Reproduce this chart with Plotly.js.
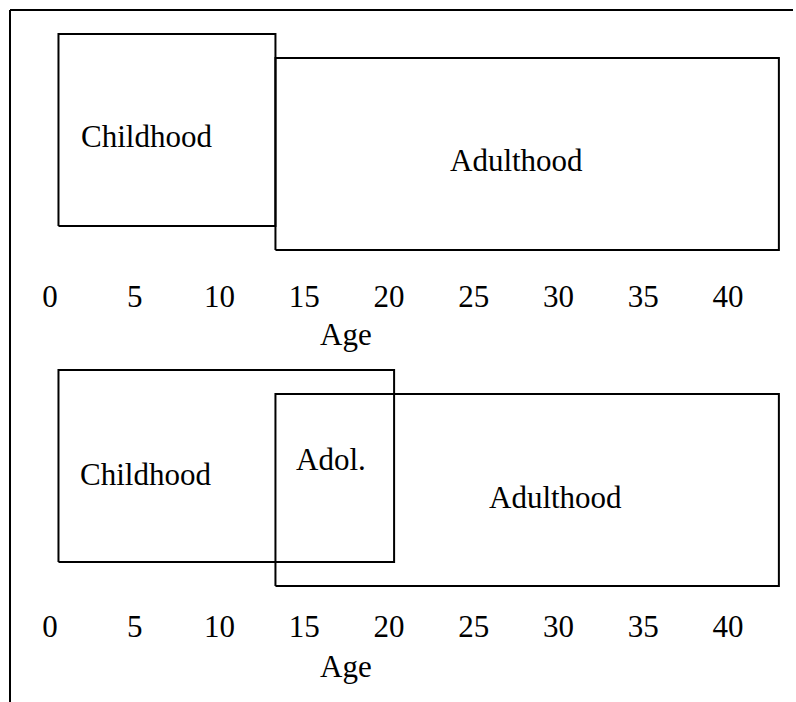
<!DOCTYPE html>
<html>
<head>
<meta charset="utf-8">
<script src="https://cdn.plot.ly/plotly-3.0.1.min.js"></script>
<style>html,body{margin:0;padding:0;background:#fff;}#chart{width:796px;height:702px;}</style>
</head>
<body>
<div id="chart"></div>
<script>
// Stage boxes: start and end age, bottom and top level (arbitrary rows)
const topStages = ["Childhood", "Adulthood"];
const topStart = [0.5, 13.3];
const topEnd = [13.3, 43.0];
const topLow = [1.5, 0.5];
const topHigh = [9.5, 8.5];

const botStages = ["Childhood", "Adulthood"];
const botStart = [0.5, 13.3];
const botEnd = [20.3, 43.0];
const botLow = [1.5, 0.5];
const botHigh = [9.5, 8.5];

// Label positions
const topLabels = ["Childhood", "Adulthood"];
const topLabelX = [5.69, 27.53];
const topLabelY = [5.23, 4.23];
const botLabels = ["Childhood", "Adol.", "Adulthood"];
const botLabelX = [5.66, 16.55, 29.85];
const botLabelY = [5.15, 5.79, 4.17];

const ageTicks = [0, 5, 10, 15, 20, 25, 30, 35, 40];
const axisTitle = "Age";

const FONT = "Liberation Serif";
const FS = 31;

function boxTrace(name, x0, x1, y0, y1, xa, ya) {
  return {
    type: "scatter", mode: "lines", name: name,
    x: [x0, x1, x1, x0, x0], y: [y0, y0, y1, y1, y0],
    xaxis: xa, yaxis: ya,
    line: {color: "#000", width: 2}, hoverinfo: "skip", showlegend: false
  };
}

const traces = [];
topStages.forEach((s, i) => traces.push(boxTrace(s, topStart[i], topEnd[i], topLow[i], topHigh[i], "x", "y")));
botStages.forEach((s, i) => traces.push(boxTrace(s, botStart[i], botEnd[i], botLow[i], botHigh[i], "x2", "y2")));

const tf = {family: FONT, size: FS, color: "#000"};
const annotations = [];
topLabels.forEach((t, i) => annotations.push({text: t, x: topLabelX[i], y: topLabelY[i], xref: "x", yref: "y",
  xanchor: "center", yanchor: "middle", showarrow: false, font: tf}));
botLabels.forEach((t, i) => annotations.push({text: t, x: botLabelX[i], y: botLabelY[i], xref: "x2", yref: "y2",
  xanchor: "center", yanchor: "middle", showarrow: false, font: tf}));
annotations.push({text: axisTitle, x: 345.5/796, y: 1 - 335/702, xref: "paper", yref: "paper",
  xanchor: "center", yanchor: "middle", showarrow: false, font: tf});
annotations.push({text: axisTitle, x: 345.5/796, y: 1 - 666/702, xref: "paper", yref: "paper",
  xanchor: "center", yanchor: "middle", showarrow: false, font: tf});

const xCommon = {
  range: [-2.95, 44.01], domain: [0, 1],
  tickvals: ageTicks, ticktext: ageTicks.map(String),
  showgrid: false, zeroline: false, showline: false, ticks: "",
  tickfont: tf, fixedrange: true
};
const yCommon = {range: [0, 10], showgrid: false, zeroline: false, showline: false,
  showticklabels: false, ticks: "", fixedrange: true};

const layout = {
  width: 796, height: 702,
  margin: {l: 0, r: 0, t: 0, b: 0},
  paper_bgcolor: "#fff", plot_bgcolor: "rgba(0,0,0,0)",
  showlegend: false,
  font: tf,
  xaxis: Object.assign({}, xCommon, {anchor: "y", ticklabelstandoff: 13}),
  yaxis: Object.assign({}, yCommon, {domain: [1 - 262/702, 1 - 22/702], anchor: "x"}),
  xaxis2: Object.assign({}, xCommon, {anchor: "y2", ticklabelstandoff: 7}),
  yaxis2: Object.assign({}, yCommon, {domain: [1 - 598/702, 1 - 358/702], anchor: "x2"}),
  annotations: annotations,
  shapes: [
    {type: "line", xref: "paper", yref: "paper", x0: 10/796, x1: 793/796, y0: 1 - 10/702, y1: 1 - 10/702,
     line: {color: "#000", width: 2}},
    {type: "line", xref: "paper", yref: "paper", x0: 10/796, x1: 10/796, y0: 1 - 10/702, y1: 0,
     line: {color: "#000", width: 2}}
  ]
};

Plotly.newPlot("chart", traces, layout, {displayModeBar: false, staticPlot: true});
</script>
</body>
</html>
